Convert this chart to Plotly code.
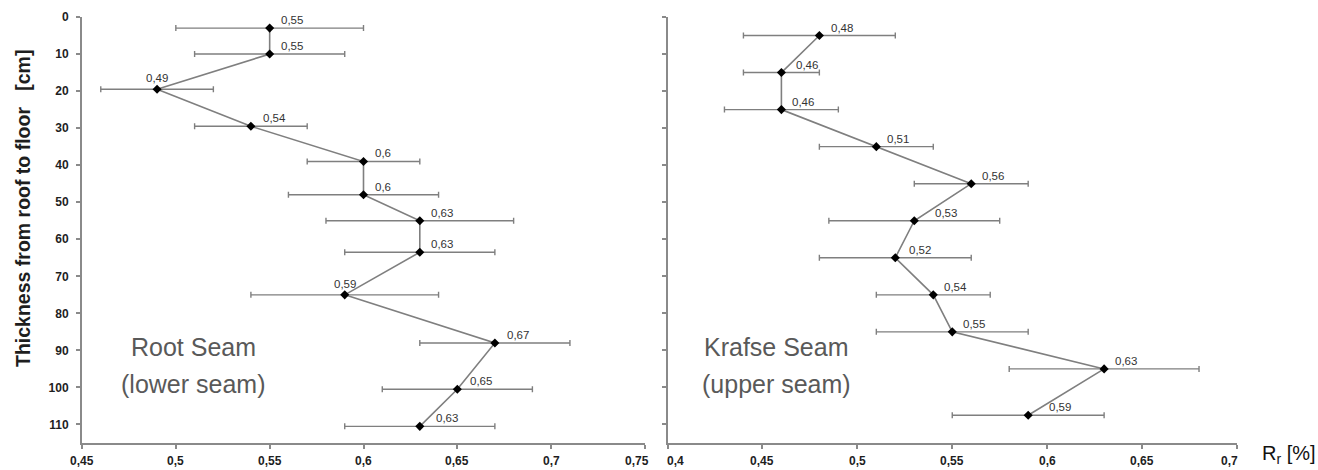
import plotly.graph_objects as go

# ---------------- data ----------------
root_depth = [3, 10, 19.5, 29.5, 39, 48, 55, 63.5, 75, 88, 100.5, 110.5]
root_rr = [0.55, 0.55, 0.49, 0.54, 0.60, 0.60, 0.63, 0.63, 0.59, 0.67, 0.65, 0.63]
root_err = [0.05, 0.04, 0.03, 0.03, 0.03, 0.04, 0.05, 0.04, 0.05, 0.04, 0.04, 0.04]

krafse_depth = [5, 15, 25, 35, 45, 55, 65, 75, 85, 95, 107.5]
krafse_rr = [0.48, 0.46, 0.46, 0.51, 0.56, 0.53, 0.52, 0.54, 0.55, 0.63, 0.59]
krafse_err = [0.04, 0.02, 0.03, 0.03, 0.03, 0.045, 0.04, 0.03, 0.04, 0.05, 0.04]

depth_ticks = [0, 10, 20, 30, 40, 50, 60, 70, 80, 90, 100, 110]
root_xticks = [0.45, 0.50, 0.55, 0.60, 0.65, 0.70, 0.75]
krafse_xticks = [0.40, 0.45, 0.50, 0.55, 0.60, 0.65, 0.70]

# label placement (style only)
root_label_dx = [10, 10, None, 11, 10, 10, 10, 10, None, 11, 12, 15]
krafse_label_dx = [11, 14, 10, 10, 10, 20, 13, 10, 10, 10, 20]
root_xtick_dx = [0, 0, 0, 0, 0, 0, -8]
krafse_xtick_dx = [8, 0, 0, 0, 0, 0, -8]

# ---------------- style ----------------
W, H = 1318, 470
ML, MR, MT, MB = 82, 81, 17, 27
GRAY = "#7f7f7f"
AXIS = "#8a8a8a"
FONT = "Liberation Sans, Arial"
TICKFONT = dict(family=FONT, size=12, color="#1e1e1e", weight="bold")


def fmt(v):
    return ("%g" % v).replace(".", ",")


fig = go.Figure()


def add_series(x, y, err, xa, ya):
    fig.add_trace(go.Scatter(
        x=x, y=y, xaxis=xa, yaxis=ya, mode="lines+markers",
        line=dict(color=GRAY, width=1.6),
        marker=dict(symbol="diamond", size=7, color="black"),
        error_x=dict(type="data", array=err, symmetric=True, color=GRAY,
                     thickness=1.4, width=3),
        showlegend=False, hoverinfo="skip", cliponaxis=False,
    ))


add_series(root_rr, root_depth, root_err, "x", "y")
add_series(krafse_rr, krafse_depth, krafse_err, "x2", "y2")

annotations = []
label_font = dict(family=FONT, size=11.5, color="#333333")


def add_labels(xs, ys, dxs, xref, yref):
    for v, d, dx in zip(xs, ys, dxs):
        if dx is None:
            annotations.append(dict(x=v, y=d, xref=xref, yref=yref, text=fmt(v),
                                    showarrow=False, xanchor="center", yanchor="middle",
                                    yshift=11, font=label_font))
        else:
            annotations.append(dict(x=v, y=d, xref=xref, yref=yref, text=fmt(v),
                                    showarrow=False, xanchor="left", yanchor="middle",
                                    xshift=dx - 1, yshift=8, font=label_font))


add_labels(root_rr, root_depth, root_label_dx, "x", "y")
add_labels(krafse_rr, krafse_depth, krafse_label_dx, "x2", "y2")

PW = W - ML - MR
PH = H - MT - MB


def px_x(p):
    return (p - ML) / PW


def px_y(p):
    return (H - MB - p) / PH


# x tick labels (end labels nudged inward as in the reference)
for ticks, dxs, xref in [(root_xticks, root_xtick_dx, "x"), (krafse_xticks, krafse_xtick_dx, "x2")]:
    for t, dx in zip(ticks, dxs):
        annotations.append(dict(x=t, y=px_y(461), xref=xref, yref="paper", text=fmt(t),
                                showarrow=False, xanchor="center", yanchor="middle",
                                xshift=dx, font=TICKFONT))

seam_font = dict(family=FONT, size=25, color="#595959")
for cx, l1, l2 in [(193, "Root Seam", "(lower seam)"), (776, "Krafse Seam", "(upper seam)")]:
    annotations.append(dict(x=px_x(cx), y=px_y(347), xref="paper", yref="paper", text=l1,
                            showarrow=False, xanchor="center", yanchor="middle", font=seam_font))
    annotations.append(dict(x=px_x(cx), y=px_y(384), xref="paper", yref="paper", text=l2,
                            showarrow=False, xanchor="center", yanchor="middle", font=seam_font))

annotations.append(dict(x=px_x(23), y=px_y(209), xref="paper", yref="paper",
                        text="<b>Thickness from roof to floor\u00a0\u00a0\u00a0[cm]</b>",
                        textangle=-90, showarrow=False, xanchor="center", yanchor="middle",
                        font=dict(family=FONT, size=19.5, color="#1e1e1e")))
annotations.append(dict(x=1, y=px_y(454), xref="paper", yref="paper", xshift=23,
                        text="R<sub>r</sub> [%]", showarrow=False, xanchor="left", yanchor="middle",
                        font=dict(family=FONT, size=20, color="#111111")))

axis_common = dict(showgrid=False, zeroline=False, showline=True, linecolor=AXIS, linewidth=2,
                   ticks="outside", ticklen=4, tickwidth=1.5, tickcolor=AXIS,
                   automargin=False)

fig.update_layout(
    width=W, height=H,
    margin=dict(l=ML, r=MR, t=MT, b=MB, autoexpand=False),
    paper_bgcolor="white", plot_bgcolor="white",
    separators=",.",
    xaxis=dict(domain=[0, px_x(645)], range=[0.45, 0.75], tickvals=root_xticks,
               anchor="y", showticklabels=False, **axis_common),
    xaxis2=dict(domain=[px_x(667.5), 1], range=[0.4, 0.7], tickvals=krafse_xticks,
                anchor="y2", showticklabels=False, **axis_common),
    yaxis=dict(domain=[0, 1], range=[115, 0], tickvals=depth_ticks, anchor="x",
               tickfont=TICKFONT, ticklabelstandoff=5, **axis_common),
    yaxis2=dict(domain=[0, 1], range=[115, 0], tickvals=depth_ticks, anchor="x2",
                showticklabels=False, **axis_common),
    annotations=annotations,
)

fig.write_html("out.html")
